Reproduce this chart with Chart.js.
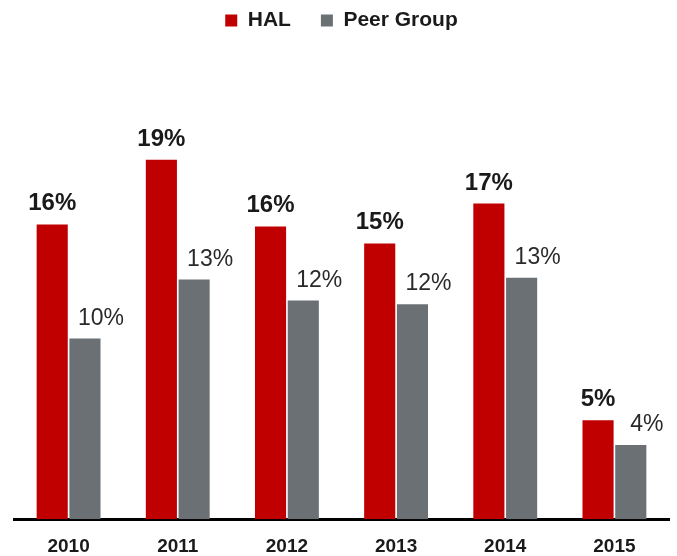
<!DOCTYPE html>
<html>
<head>
<meta charset="utf-8">
<script src="https://cdn.jsdelivr.net/npm/chart.js@4"></script>
<style>
    html, body { margin: 0; padding: 0; background: #fff; }
    #wrap { width: 677px; height: 556px; }
</style>
</head>
<body>
<div id="wrap"><canvas id="chart" width="677" height="556"></canvas></div>
<script>
// годы по оси x
const years = ['2010', '2011', '2012', '2013', '2014', '2015']
// высоты столбцов (оценка по картинке, %)
const halValues = [15.5, 18.9, 15.4, 14.5, 16.6, 5.2]
const peerValues = [9.5, 12.6, 11.5, 11.3, 12.7, 3.9]
// подписи над столбцами, как на исходнике
const halLabels = ['16%', '19%', '16%', '15%', '17%', '5%']
const peerLabels = ['10%', '13%', '12%', '12%', '13%', '4%']

const FONT = "'Liberation Sans', Arial, sans-serif"

// подписи значений над столбцами
const valueLabels = {
    id: 'valueLabels',
    afterDatasetsDraw(chart) {
        const ctx = chart.ctx
        ctx.save()
        ctx.textBaseline = 'alphabetic'
        ctx.textAlign = 'center'
        chart.data.datasets.forEach((ds, i) => {
            const meta = chart.getDatasetMeta(i)
            meta.data.forEach((bar, j) => {
                if (i === 0) {
                    ctx.font = 'bold 24px ' + FONT
                    ctx.fillStyle = '#1a1a1a'
                    ctx.fillText(halLabels[j], bar.x, bar.y - 14)
                } else {
                    ctx.font = '23px ' + FONT
                    ctx.fillStyle = '#2a2a2a'
                    ctx.fillText(peerLabels[j], bar.x + 16, bar.y - 14)
                }
            })
        })
        ctx.restore()
    }
}

new Chart(document.getElementById('chart').getContext('2d'), {
    type: 'bar',
    data: {
        labels: years,
        datasets: [
            {
                label: 'HAL',
                data: halValues,
                backgroundColor: '#c00000',
                barPercentage: 0.95,
                categoryPercentage: 0.6
            },
            {
                label: 'Peer Group',
                data: peerValues,
                backgroundColor: '#6b7075',
                barPercentage: 0.95,
                categoryPercentage: 0.6
            }
        ]
    },
    options: {
        responsive: false,
        animation: false,
        layout: {
            padding: { left: 14, right: 8, top: -20, bottom: -18 }
        },
        plugins: {
            legend: {
                position: 'top',
                labels: {
                    boxWidth: 12,
                    boxHeight: 12,
                    padding: 30,
                    color: '#1a1a1a',
                    font: { family: FONT, size: 21, weight: 'bold' }
                }
            },
            tooltip: { enabled: false }
        },
        scales: {
            x: {
                grid: { display: false, drawTicks: false },
                border: { display: true, color: '#000', width: 3 },
                ticks: {
                    color: '#1a1a1a',
                    padding: 16,
                    font: { family: FONT, size: 19, weight: 'bold' }
                }
            },
            y: {
                display: false,
                min: 0,
                max: 25.15
            }
        }
    },
    plugins: [valueLabels]
})
</script>
</body>
</html>
